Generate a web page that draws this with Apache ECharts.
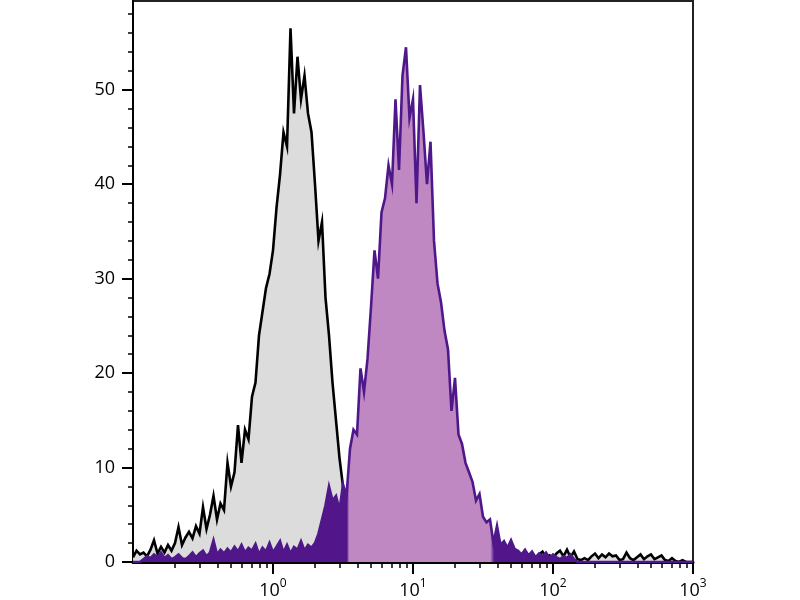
<!DOCTYPE html>
<html>
<head>
<meta charset="utf-8">
<script src="https://cdn.jsdelivr.net/npm/echarts@6/dist/echarts.min.js"></script>
<style>html,body{margin:0;padding:0;background:#fff}#c{width:800px;height:600px}</style>
</head>
<body>
<div id="c"></div>
<script>
// Histogram bins: uniform in log10 space from 10^-1 to 10^3
const binStartLog = -1;
const binStepLog = 0.025;

// Control (gray, black outline) counts per bin
const grayCounts = [
  0.5, 1.2, 0.8, 1.0, 0.6, 1.3, 2.3, 0.9, 1.6, 1.0,
  1.8, 1.2, 2.0, 3.7, 1.8, 2.6, 3.2, 2.5, 3.8, 3.0,
  5.8, 3.5, 5.0, 7.0, 4.5, 6.2, 5.5, 10.5, 8.0, 9.5,
  14.5, 10.5, 14.0, 13.0, 17.5, 19.0, 24.0, 26.5, 29.0, 30.5,
  33.0, 37.5, 41.0, 45.5, 44.0, 56.5, 47.5, 53.5, 49.0, 51.5,
  47.5, 45.5, 40.0, 34.0, 36.0, 28.0, 24.0, 19.0, 15.0, 11.0,
  8.0, 3.0, 1.5, 0.9, 1.2, 0.6, 1.0, 0.7, 1.1, 0.5,
  0.9, 0.6, 1.0, 0.4, 0.8, 0.7, 1.1, 0.5, 0.9, 0.6,
  0.8, 1.0, 0.5, 0.7, 1.2, 0.6, 0.9, 0.4, 0.8, 1.0,
  0.6, 0.9, 0.5, 1.1, 0.7, 0.8, 0.4, 1.0, 0.6, 0.9,
  0.5, 0.8, 1.0, 0.6, 0.9, 0.5, 1.1, 0.7, 0.9, 0.6,
  1.0, 0.5, 0.8, 0.6, 0.9, 0.4, 0.8, 1.1, 0.5, 0.7,
  0.4, 0.9, 1.2, 0.6, 1.3, 0.5, 1.1, 0.3, 0.2, 0.4,
  0.2, 0.6, 0.9, 0.4, 0.8, 0.5, 0.9, 0.6, 0.7, 0.2,
  0.3, 1.0, 0.4, 0.2, 0.5, 0.8, 0.3, 0.6, 0.8, 0.3,
  0.5, 0.7, 0.2, 0.1, 0.4, 0.1, 0, 0.2, 0, 0, 0
];

// Stained (purple) counts per bin
const purpleCounts = [
  0, 0, 0, 0.3, 0.6, 0.4, 0.8, 0.5, 1.0, 0.4,
  0.7, 0.3, 0.5, 0.8, 0.4, 0.3, 0.6, 1.0, 0.5, 0.9,
  1.2, 0.6, 1.0, 2.3, 0.8, 1.3, 0.9, 1.4, 1.0, 1.6,
  1.1, 1.8, 1.0, 1.5, 1.2, 1.9, 0.8, 1.5, 1.1, 2.0,
  1.0, 1.6, 2.2, 1.0, 1.8, 0.9, 1.6, 1.3, 2.2, 1.2,
  1.8, 1.5, 2.0, 3.0, 4.5, 6.0, 8.0, 6.5, 7.0, 5.5,
  8.2, 7.0, 12.0, 14.0, 13.5, 20.5, 18.0, 21.5, 27.0, 33.0,
  30.0, 37.0, 38.5, 42.0, 40.0, 49.0, 41.5, 51.5, 54.5, 47.0,
  49.0, 38.0, 50.5, 45.5, 40.0, 44.5, 34.0, 29.5, 27.5, 24.5,
  22.5, 16.0, 19.5, 13.5, 12.5, 10.5, 9.5, 8.5, 6.5, 7.2,
  4.8, 4.2, 4.5, 2.0, 3.8, 1.8, 2.2, 1.5, 2.3, 1.4,
  1.2, 0.8, 1.3, 0.7, 1.1, 0.5, 0.9, 0.6, 1.0, 0.4,
  0.8, 0.5, 0.3, 0.6, 0.4, 0.8, 0.3, 0, 0, 0,
  0, 0, 0, 0, 0, 0, 0, 0, 0, 0,
  0, 0, 0, 0, 0, 0, 0, 0, 0, 0,
  0, 0, 0, 0, 0, 0, 0, 0, 0, 0, 0
];

const xMajorTicks = [1, 10, 100, 1000];
const xMinorMultipliers = [2, 3, 4, 5, 6, 7, 8, 9];
const xDecades = [0.1, 1, 10, 100];
const yMajorTicks = [0, 10, 20, 30, 40, 50];
const yMinorTicks = [2, 4, 6, 8, 12, 14, 16, 18, 22, 24, 26, 28, 32, 34, 36, 38, 42, 44, 46, 48, 52, 54, 56, 58];
const yMax = 59.4;

const xMinorTicks = [];
xDecades.forEach(d => xMinorMultipliers.forEach(m => xMinorTicks.push(+(d * m).toPrecision(3))));

function binX(i) { return Math.pow(10, binStartLog + binStepLog * i); }
const grayData = grayCounts.map((v, i) => [binX(i), v]);
const purpleData = purpleCounts.map((v, i) => [binX(i), v]);

const FONT = 'Open Sans';
const purpleLine = '#4f188a';
const purpleFill = '#bf88c3';
const purpleDark = '#52168a';

const chart = echarts.init(document.getElementById('c'), null, {renderer: 'canvas'});
chart.setOption({
  backgroundColor: '#ffffff',
  animation: false,
  grid: {
    left: 133, right: 107, top: 1, bottom: 38,
    show: true, borderColor: '#222', borderWidth: 2,
    outerBoundsMode: 'none'
  },
  xAxis: [
    {
      type: 'log', logBase: 10, min: 0.1, max: 1000, position: 'bottom',
      axisLine: {show: true, lineStyle: {color: '#000', width: 3}},
      axisTick: {show: true, customValues: xMinorTicks, length: 6, lineStyle: {color: '#000', width: 1.5}},
      axisLabel: {show: false},
      splitLine: {show: false}, minorTick: {show: false}
    },
    {
      type: 'log', logBase: 10, min: 0.1, max: 1000, position: 'bottom', gridIndex: 0,
      axisLine: {show: false},
      axisTick: {show: true, customValues: xMajorTicks, length: 12, lineStyle: {color: '#000', width: 2}},
      axisLabel: {
        show: true, customValues: xMajorTicks, margin: 16, color: '#000',
        fontFamily: FONT, fontSize: 18,
        formatter: v => '{n|10}{s|' + Math.round(Math.log10(v)) + '}',
        rich: {
          n: {fontFamily: FONT, fontSize: 18, lineHeight: 22, color: '#000', verticalAlign: 'bottom'},
          s: {fontFamily: FONT, fontSize: 12, lineHeight: 12, color: '#000', verticalAlign: 'top'}
        }
      },
      splitLine: {show: false}
    }
  ],
  yAxis: [
    {
      type: 'value', min: 0, max: yMax, position: 'left',
      axisLine: {show: true, lineStyle: {color: '#000', width: 2}},
      axisTick: {show: true, customValues: yMajorTicks, length: 11, lineStyle: {color: '#000', width: 2}},
      axisLabel: {show: true, customValues: yMajorTicks, margin: 18, color: '#000', fontFamily: FONT, fontSize: 18},
      splitLine: {show: false}
    },
    {
      type: 'value', min: 0, max: yMax, position: 'left', gridIndex: 0,
      axisLine: {show: false},
      axisTick: {show: true, customValues: yMinorTicks, length: 5, lineStyle: {color: '#000', width: 1.5}},
      axisLabel: {show: false},
      splitLine: {show: false}
    }
  ],
  series: [
    {
      type: 'line', name: 'control', data: grayData, xAxisIndex: 0, yAxisIndex: 0,
      z: 2, symbol: 'none', smooth: false,
      lineStyle: {color: '#000', width: 2.6, join: 'miter'},
      areaStyle: {color: '#dcdcdc', opacity: 1}
    },
    {
      type: 'line', name: 'stained', data: purpleData, xAxisIndex: 0, yAxisIndex: 0,
      z: 3, symbol: 'none', smooth: false,
      lineStyle: {color: purpleLine, width: 2.6, join: 'miter'},
      areaStyle: {
        opacity: 1,
        color: new echarts.graphic.LinearGradient(0, 0, 1, 0, [
          {offset: 0, color: purpleDark},
          {offset: 0.382, color: purpleDark},
          {offset: 0.386, color: purpleFill},
          {offset: 0.638, color: purpleFill},
          {offset: 0.645, color: purpleDark},
          {offset: 1, color: purpleDark}
        ])
      }
    }
  ]
});
</script>
</body>
</html>
